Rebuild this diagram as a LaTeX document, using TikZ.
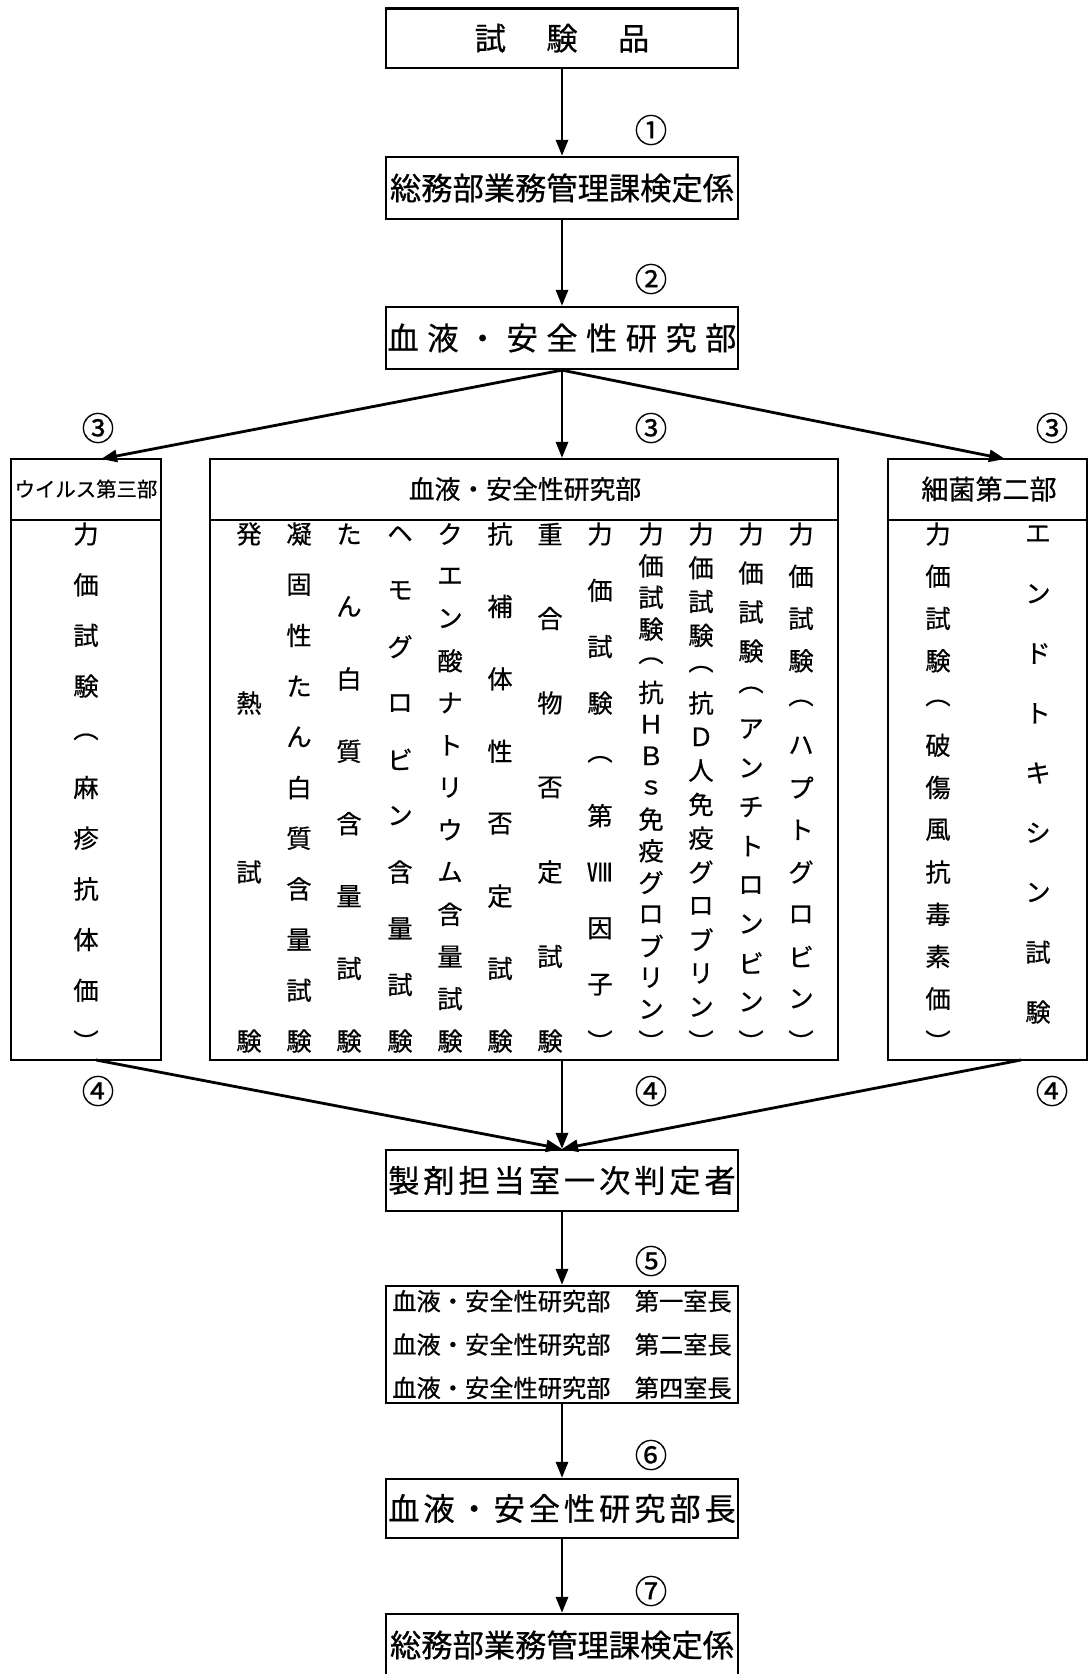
\documentclass[tikz,border=0pt]{standalone}
\usepackage{fontspec}
\setmainfont{Noto Sans CJK JP}[FakeBold=0.6]
\usetikzlibrary{arrows.meta}
\newcommand\sepA{\hspace{23pt}}
\newcommand\sepB{\hspace{4.8pt}}
\newcommand\sepC{\hspace{2.2pt}}
\tikzset{
  box/.style={draw, line width=1.3pt, inner sep=0pt},
  bigfont/.style={font=\fontsize{17.8pt}{20pt}\selectfont},
  arr/.style={line width=1.6pt, -{Triangle[length=0.32cm,width=0.24cm]}},
  num/.style={inner sep=0pt, font=\fontsize{18.5pt}{18.5pt}\selectfont},
  vch/.style={inner sep=0pt, font=\fontsize{14.4pt}{14.4pt}\selectfont},
  sep/.style={line width=1.3pt},
}
\newcommand\vtext[5]{%
  \foreach \vc [count=\i] in {#5} {
    \node[vch] (#1-\i) at ({#2}, {534+(\i-1)*(#3-534)/(#4-1)}) {\vc};
  }%
}
\begin{document}
\begin{tikzpicture}[x=0.02cm, y=-0.02cm]
\useasboundingbox (0,0) rectangle (1089,1674);
% main boxes
\node[box, bigfont, minimum width=7.04cm, minimum height=1.19cm] (b1) at (562,38.2) {試\sepA 験\sepA 品};
\node[box, bigfont, minimum width=7.04cm, minimum height=1.24cm] (b2) at (562,188) {総務部業務管理課検定係};
\node[box, bigfont, minimum width=7.04cm, minimum height=1.24cm] (b3) at (562,338) {血\sepB 液\sepB ・\sepB 安\sepB 全\sepB 性\sepB 研\sepB 究\sepB 部};
\node[box, bigfont, minimum width=7.04cm, minimum height=1.22cm] (b4) at (562,1180.5) {製\sepC 剤\sepC 担\sepC 当\sepC 室\sepC 一\sepC 次\sepC 判\sepC 定\sepC 者};
\node[box, minimum width=7.04cm, minimum height=2.34cm, align=center, font=\fontsize{13.8pt}{24.7pt}\selectfont] (b5) at (562,1344.5) {血液・安全性研究部　第一室長\\血液・安全性研究部　第二室長\\血液・安全性研究部　第四室長};
\node[box, bigfont, minimum width=7.04cm, minimum height=1.18cm] (b6) at (562,1508.5) {血\sepC 液\sepC ・\sepC 安\sepC 全\sepC 性\sepC 研\sepC 究\sepC 部\sepC 長};
\node[box, bigfont, minimum width=7.04cm, minimum height=1.24cm] (b7) at (562,1645) {総務部業務管理課検定係};
% big boxes
\node[box, minimum width=3.006cm, minimum height=12.02cm] (lb) at (85.85,759.5) {};
\node[box, minimum width=12.56cm, minimum height=12.02cm] (mb) at (524,759.5) {};
\node[box, minimum width=3.98cm, minimum height=12.02cm] (rb) at (987.5,759.5) {};
\coordinate (hy) at (0,520);
\draw[sep] (lb.west |- hy) -- (lb.east |- hy);
\draw[sep] (mb.west |- hy) -- (mb.east |- hy);
\draw[sep] (rb.west |- hy) -- (rb.east |- hy);
\node[inner sep=0pt, font=\fontsize{11.6pt}{12pt}\selectfont] (lh) at (86,489) {ウイルス第三部};
\node[inner sep=0pt, font=\fontsize{14.7pt}{15pt}\selectfont] (mh) at (525,489) {血液・安全性研究部};
\node[inner sep=0pt, font=\fontsize{15.4pt}{16pt}\selectfont] (rh) at (989,489) {細菌第二部};
% vertical columns
\vtext{c1}{249}{1041}{4}{発,熱,試,験}
\vtext{c2}{299}{1041}{11}{凝,固,性,た,ん,白,質,含,量,試,験}
\vtext{c3}{349}{1041}{8}{た,ん,白,質,含,量,試,験}
\vtext{c4}{400}{1041}{10}{ヘ,モ,グ,ロ,ビ,ン,含,量,試,験}
\vtext{c5}{450}{1041}{13}{ク,エ,ン,酸,ナ,ト,リ,ウ,ム,含,量,試,験}
\vtext{c6}{500}{1041}{8}{抗,補,体,性,否,定,試,験}
\vtext{c7}{550}{1041}{7}{重,合,物,否,定,試,験}
\vtext{c8}{600}{1041}{10}{力,価,試,験,︵,第,Ⅷ,因,子,︶}
\vtext{c9}{651}{1041}{17}{力,価,試,験,︵,抗,Ｈ,Ｂ,ｓ,免,疫,グ,ロ,ブ,リ,ン,︶}
\vtext{c10}{701}{1041}{16}{力,価,試,験,︵,抗,Ｄ,人,免,疫,グ,ロ,ブ,リ,ン,︶}
\vtext{c11}{751}{1041}{14}{力,価,試,験,︵,ア,ン,チ,ト,ロ,ン,ビ,ン,︶}
\vtext{c12}{801}{1041}{13}{力,価,試,験,︵,ハ,プ,ト,グ,ロ,ビ,ン,︶}
\vtext{l1}{86}{1041}{11}{力,価,試,験,︵,麻,疹,抗,体,価,︶}
\vtext{r1}{938}{1041}{13}{力,価,試,験,︵,破,傷,風,抗,毒,素,価,︶}
\vtext{r2}{1038}{1012}{9}{エ,ン,ド,ト,キ,シ,ン,試,験}
% connectors
\draw[arr] (b1.south) -- (b2.north);
\draw[arr] (b2.south) -- (b3.north);
\coordinate (lt) at (101,459);
\coordinate (rt) at (1005,459);
\draw[arr] (b3.south) -- (lt);
\draw[arr] (b3.south) -- (b3.south |- mb.north);
\draw[arr] (b3.south) -- (rt);
\coordinate (lbt) at (96,1060);
\coordinate (rbt) at (1021,1060);
\draw[arr] (lbt) -- (b4.north);
\draw[arr] (b4.north |- mb.south) -- (b4.north);
\draw[arr] (rbt) -- (b4.north);
\draw[arr] (b4.south) -- (b5.north);
\draw[arr] (b5.south) -- (b6.north);
\draw[arr] (b6.south) -- (b7.north);
% step numbers
\node[num] (n1) at (651,130) {①};
\node[num] (n2) at (651,279) {②};
\node[num] (n3a) at (98,428) {③};
\node[num] (n3b) at (651,428) {③};
\node[num] (n3c) at (1052,428) {③};
\node[num] (n4a) at (98,1091) {④};
\node[num] (n4b) at (651,1091) {④};
\node[num] (n4c) at (1052,1091) {④};
\node[num] (n5) at (651,1261) {⑤};
\node[num] (n6) at (651,1455) {⑥};
\node[num] (n7) at (651,1591) {⑦};
\end{tikzpicture}
\end{document}
